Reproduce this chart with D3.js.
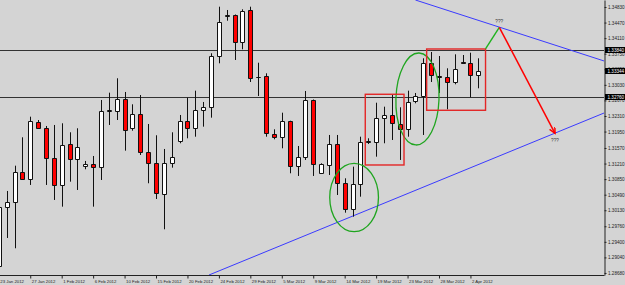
<!DOCTYPE html>
<html>
<head>
<meta charset="utf-8">
<script src="https://cdn.jsdelivr.net/npm/d3@7"></script>
<style>
  body { margin: 0; background: #d4d4d4; }
  svg { display: block; font-family: 'Liberation Sans', Arial, sans-serif; }
</style>
</head>
<body>
<div id="chart"></div>
<script>
const WIDTH = 625;
const HEIGHT = 285;
const PLOT_W = 604;
const PLOT_H = 275;

// daily bars (MT4 style, incl. Sunday bars)
const dates = [
    '23 Jan 2012', '24 Jan 2012', '25 Jan 2012', '26 Jan 2012', '27 Jan 2012', '29 Jan 2012', '30 Jan 2012', '31 Jan 2012',
    '1 Feb 2012', '2 Feb 2012', '3 Feb 2012', '5 Feb 2012', '6 Feb 2012', '7 Feb 2012', '8 Feb 2012', '9 Feb 2012',
    '10 Feb 2012', '12 Feb 2012', '13 Feb 2012', '14 Feb 2012', '15 Feb 2012', '16 Feb 2012', '17 Feb 2012', '19 Feb 2012',
    '20 Feb 2012', '21 Feb 2012', '22 Feb 2012', '23 Feb 2012', '24 Feb 2012', '26 Feb 2012', '27 Feb 2012', '28 Feb 2012',
    '29 Feb 2012', '1 Mar 2012', '2 Mar 2012', '4 Mar 2012', '5 Mar 2012', '6 Mar 2012', '7 Mar 2012', '8 Mar 2012',
    '9 Mar 2012', '11 Mar 2012', '12 Mar 2012', '13 Mar 2012', '14 Mar 2012', '15 Mar 2012', '16 Mar 2012', '18 Mar 2012',
    '19 Mar 2012', '20 Mar 2012', '21 Mar 2012', '22 Mar 2012', '23 Mar 2012', '25 Mar 2012', '26 Mar 2012', '27 Mar 2012',
    '28 Mar 2012', '29 Mar 2012', '30 Mar 2012', '1 Apr 2012', '2 Apr 2012', '3 Apr 2012'
];

const open = [
    1.28842, 1.30199, 1.30315, 1.31022, 1.30846, 1.32178, 1.32026, 1.31332, 1.30715, 1.31656,
    1.31309, 1.31154, 1.31200, 1.31138, 1.32426, 1.32426, 1.32703, 1.32026, 1.32356, 1.31485,
    1.31230, 1.30507, 1.31216, 1.31732, 1.32187, 1.32026, 1.32442, 1.32511, 1.33697, 1.34622,
    1.34645, 1.34028, 1.34761, 1.33219, 1.33228, 1.31887, 1.31817, 1.32187, 1.31161, 1.31355,
    1.32680, 1.30985, 1.31177, 1.31663, 1.30754, 1.30153, 1.30738, 1.31716, 1.31716, 1.32257,
    1.32326, 1.32125, 1.32009, 1.32657, 1.32779, 1.33535, 1.33242, 1.33219, 1.33089, 1.33558,
    1.33528, 1.33258
];
const high = [
    1.30252, 1.30576, 1.31161, 1.31817, 1.32294, 1.32217, 1.32079, 1.32102, 1.32141, 1.31933,
    1.32026, 1.31270, 1.31385, 1.32680, 1.32849, 1.33182, 1.32865, 1.32580, 1.32795, 1.32125,
    1.31864, 1.31547, 1.31933, 1.32333, 1.32733, 1.32895, 1.32634, 1.33760, 1.34837, 1.34761,
    1.34657, 1.34777, 1.34837, 1.33542, 1.33297, 1.32002, 1.32386, 1.32201, 1.31616, 1.32888,
    1.32691, 1.31216, 1.31871, 1.31871, 1.30869, 1.31138, 1.31831, 1.31794, 1.32617, 1.32525,
    1.32795, 1.32511, 1.32895, 1.32842, 1.33644, 1.33790, 1.33697, 1.33413, 1.33736, 1.33720,
    1.33773, 1.33644
];
const low = [
    1.28703, 1.29489, 1.29251, 1.30846, 1.30715, 1.32026, 1.30715, 1.30368, 1.30213, 1.30791,
    1.30599, 1.31078, 1.30213, 1.30830, 1.32102, 1.32217, 1.31508, 1.31970, 1.31408, 1.30754,
    1.30391, 1.29690, 1.31115, 1.31679, 1.31794, 1.31831, 1.32063, 1.32271, 1.33528, 1.34513,
    1.33605, 1.33852, 1.33096, 1.32772, 1.31831, 1.31771, 1.31563, 1.30985, 1.30923, 1.31293,
    1.30923, 1.30969, 1.30946, 1.30483, 1.30074, 1.29982, 1.30444, 1.31663, 1.31369, 1.31679,
    1.31755, 1.31293, 1.31831, 1.32604, 1.31871, 1.33096, 1.32842, 1.32465, 1.33043, 1.33524,
    1.32742, 1.32950
];
const close = [
    1.30206, 1.30315, 1.31022, 1.30846, 1.32194, 1.32026, 1.31332, 1.30715, 1.31646, 1.31309,
    1.31586, 1.31200, 1.31138, 1.32432, 1.32437, 1.32710, 1.31986, 1.32356, 1.31485, 1.31230,
    1.30523, 1.31230, 1.31355, 1.32187, 1.32026, 1.32442, 1.32511, 1.33697, 1.34476, 1.34645,
    1.34028, 1.34738, 1.33195, 1.33205, 1.31910, 1.31817, 1.32187, 1.31161, 1.31355, 1.32680,
    1.31193, 1.31193, 1.31663, 1.30754, 1.30153, 1.30738, 1.31716, 1.31725, 1.32257, 1.32333,
    1.32141, 1.32009, 1.32627, 1.32779, 1.33528, 1.33258, 1.33219, 1.33103, 1.33397, 1.33535,
    1.33258, 1.33344
];

const xTickLabels = [
    '23 Jan 2012', '27 Jan 2012', '1 Feb 2012', '6 Feb 2012', '10 Feb 2012', '15 Feb 2012',
    '20 Feb 2012', '24 Feb 2012', '29 Feb 2012', '5 Mar 2012', '9 Mar 2012', '14 Mar 2012',
    '19 Mar 2012', '23 Mar 2012', '28 Mar 2012', '2 Apr 2012'
];
const yTicks = [
    1.34830, 1.34470, 1.34110, 1.33750, 1.33390, 1.33030, 1.32670, 1.32310, 1.31950,
    1.31570, 1.31210, 1.30850, 1.30490, 1.30130, 1.29760, 1.29400, 1.29040, 1.28680
];

// horizontal levels drawn on the chart
const levels = [1.33840, 1.32760];

// drawn objects, in [bar index, price]
const trendLines = [
    [[53, 1.34992], [77, 1.33582]],
    [[26.74, 1.28633], [77, 1.32379]]
];
const ellipses = [
    { i: 45.2, p: 1.30426, ri: 3.1, rp: 0.0079 },
    { i: 53.26, p: 1.32703, ri: 2.74, rp: 0.01064 }
];
const boxes = [
    { i0: 46.62, i1: 51.55, p0: 1.31177, p1: 1.32812 },
    { i0: 54.43, i1: 61.92, p0: 1.32442, p1: 1.33859 }
];
const greenLine = [[61.92, 1.33859], [63.67, 1.34361]];
const redArrow = [[63.67, 1.34361], [70.76, 1.31910]];
const questionMarks = [[63.67, 1.34500], [70.76, 1.31755]];

const bars = dates.map((d, i) => ({
    i: i, date: d, o: open[i], h: high[i], l: low[i], c: close[i]
}));

const svg = d3.select('#chart')
    .append('svg')
    .attr('width', WIDTH)
    .attr('height', HEIGHT);

svg.append('rect')
    .attr('width', WIDTH)
    .attr('height', HEIGHT)
    .attr('fill', '#d4d4d4');

svg.append('defs').append('clipPath')
    .attr('id', 'plot-clip')
    .append('rect')
    .attr('width', PLOT_W)
    .attr('height', PLOT_H);

svg.select('defs').append('marker')
    .attr('id', 'arrow')
    .attr('markerUnits', 'userSpaceOnUse')
    .attr('markerWidth', 8)
    .attr('markerHeight', 8)
    .attr('refX', 6)
    .attr('refY', 3)
    .attr('orient', 'auto')
    .append('path')
    .attr('d', 'M0,0 L6,3 L0,6')
    .attr('fill', 'none')
    .attr('stroke', '#ff0000')
    .attr('stroke-width', 1.5);

// Scales
const x = d3.scaleLinear()
    .domain([0, dates.length - 1])
    .range([-1.2, 478.3]);

const y = d3.scaleLinear()
    .domain([1.28633, 1.34992])
    .range([PLOT_H, 0]);

const plot = svg.append('g').attr('clip-path', 'url(#plot-clip)');

// Horizontal levels
plot.selectAll('line.level')
    .data(levels)
    .enter()
    .append('line')
    .attr('class', 'level')
    .attr('x1', 0)
    .attr('x2', PLOT_W)
    .attr('y1', d => Math.round(y(d)) + 0.5)
    .attr('y2', d => Math.round(y(d)) + 0.5)
    .attr('stroke', '#333')
    .attr('stroke-width', 1);

// Trend lines
const line = d3.line().x(d => x(d[0])).y(d => y(d[1]));

plot.selectAll('path.trend')
    .data(trendLines)
    .enter()
    .append('path')
    .attr('d', line)
    .attr('fill', 'none')
    .attr('stroke', '#3a3aff')
    .attr('stroke-width', 1);

// Candles
const px = v => Math.round(v) + 0.5;

const candle = plot.selectAll('g.candle')
    .data(bars)
    .enter()
    .append('g');

candle.append('line')
    .attr('x1', d => px(x(d.i)))
    .attr('x2', d => px(x(d.i)))
    .attr('y1', d => y(d.h))
    .attr('y2', d => y(d.l))
    .attr('stroke', '#111')
    .attr('stroke-width', 1);

candle.append('path')
    .attr('d', d => {
        const cx = px(x(d.i));
        const top = px(y(Math.max(d.o, d.c)));
        const bot = px(y(Math.min(d.o, d.c)));
        return `M${cx - 2},${top}H${cx + 2}V${bot}H${cx - 2}Z`;
    })
    .attr('fill', d => d.c >= d.o ? '#ffffff' : '#ff0000')
    .attr('stroke', '#111')
    .attr('stroke-width', 1);

// Ellipses
plot.selectAll('ellipse')
    .data(ellipses)
    .enter()
    .append('ellipse')
    .attr('cx', d => x(d.i))
    .attr('cy', d => y(d.p))
    .attr('rx', d => x(d.ri) - x(0))
    .attr('ry', d => y(0) - y(d.rp))
    .attr('transform', (d, k) => k === 1 ? `rotate(2 ${x(d.i)} ${y(d.p)})` : null)
    .attr('fill', 'none')
    .attr('stroke', '#1fa51f')
    .attr('stroke-width', 1.3);

// Boxes
plot.selectAll('rect.box')
    .data(boxes)
    .enter()
    .append('rect')
    .attr('class', 'box')
    .attr('x', d => x(d.i0))
    .attr('y', d => y(d.p1))
    .attr('width', d => x(d.i1) - x(d.i0))
    .attr('height', d => y(d.p0) - y(d.p1))
    .attr('fill', 'none')
    .attr('stroke', '#e32626')
    .attr('stroke-width', 1.4);

plot.append('path')
    .attr('d', line(greenLine))
    .attr('fill', 'none')
    .attr('stroke', '#1fb31f')
    .attr('stroke-width', 1.4);

plot.append('path')
    .attr('d', line(redArrow))
    .attr('fill', 'none')
    .attr('stroke', '#ff0000')
    .attr('stroke-width', 1.5)
    .attr('marker-end', 'url(#arrow)');

plot.selectAll('text.q')
    .data(questionMarks)
    .enter()
    .append('text')
    .attr('x', d => x(d[0]))
    .attr('y', d => y(d[1]))
    .attr('dy', '0.35em')
    .attr('text-anchor', 'middle')
    .attr('font-size', 4.8)
    .attr('fill', '#333')
    .text('???');

// Axes
const yAxis = svg.append('g')
    .attr('transform', `translate(${PLOT_W + 0.5},0)`)
    .call(d3.axisRight(y)
        .tickValues(yTicks)
        .tickSize(2)
        .tickSizeOuter(0)
        .tickPadding(1.5)
        .tickFormat(d3.format('.5f')));

yAxis.select('.domain').attr('stroke', '#222');
yAxis.selectAll('.tick line').attr('stroke', '#222');
yAxis.selectAll('.tick text')
    .attr('font-size', 4.6)
    .attr('font-family', null)
    .attr('fill', '#222');

const xAxis = svg.append('g')
    .attr('transform', `translate(0,${PLOT_H + 0.5})`)
    .call(d3.axisBottom(x)
        .tickValues(xTickLabels.map(l => dates.indexOf(l)))
        .tickSize(3)
        .tickSizeOuter(0)
        .tickPadding(1.5)
        .tickFormat(i => dates[i]));

xAxis.select('.domain')
    .attr('d', `M0,0H${PLOT_W + 0.5}`)
    .attr('stroke', '#222');
xAxis.selectAll('.tick line').attr('stroke', '#222');
xAxis.selectAll('.tick text')
    .attr('text-anchor', 'start')
    .attr('x', 1)
    .attr('font-size', 4.3)
    .attr('font-family', null)
    .attr('fill', '#222');

// Price labels on the axis (levels + last close)
const tags = levels.concat([close[close.length - 1]]);
const tag = svg.selectAll('g.tag')
    .data(tags)
    .enter()
    .append('g')
    .attr('transform', d => `translate(${PLOT_W + 1},${Math.round(y(d))})`);

tag.append('rect')
    .attr('x', 0)
    .attr('y', -3)
    .attr('width', 21)
    .attr('height', 6)
    .attr('fill', '#000');

tag.append('text')
    .attr('x', 2.5)
    .attr('dy', '0.35em')
    .attr('font-size', 4.6)
    .attr('fill', '#fff')
    .text(d => d3.format('.5f')(d));
</script>
</body>
</html>
